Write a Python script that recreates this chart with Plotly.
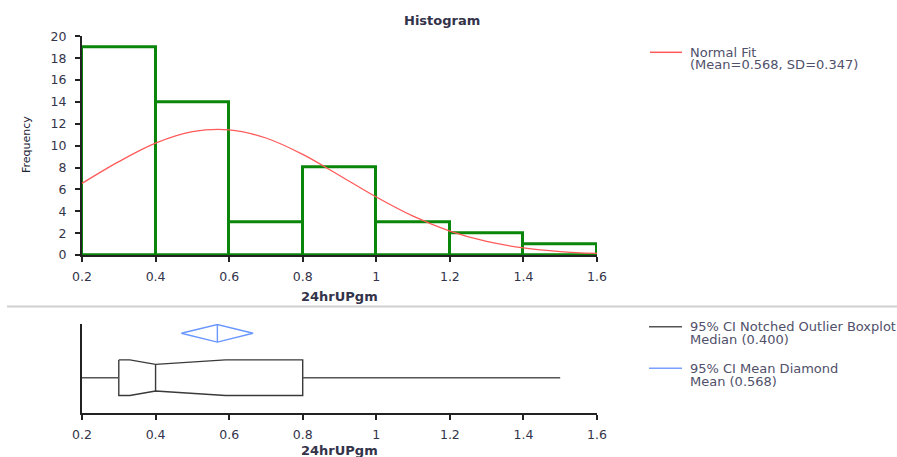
import plotly.graph_objects as go

# ---------------- data ----------------
bin_edges = [0.2, 0.4, 0.6, 0.8, 1.0, 1.2, 1.4, 1.6]
counts = [19, 14, 3, 8, 3, 2, 1]

fit_x = [0.2, 0.3, 0.4, 0.5, 0.6, 0.7, 0.8, 0.9, 1.0, 1.1, 1.2, 1.3, 1.4, 1.5, 1.6]
fit_y = [6.55, 8.54, 10.23, 11.28, 11.45, 10.70, 9.20, 7.27, 5.30, 3.55, 2.19, 1.24, 0.65, 0.31, 0.14]

x_ticks = [0.2, 0.4, 0.6, 0.8, 1.0, 1.2, 1.4, 1.6]
x_tick_labels = ["0.2", "0.4", "0.6", "0.8", "1", "1.2", "1.4", "1.6"]
y_ticks = [0, 2, 4, 6, 8, 10, 12, 14, 16, 18, 20]
y_tick_labels = ["0", "2", "4", "6", "8", "10", "12", "14", "16", "18", "20"]

q1, median, q3 = 0.3, 0.4, 0.8
whisker_lo, whisker_hi = 0.2, 1.5
notch_lo, notch_hi = 0.33, 0.59
mean_val = 0.568
mean_ci_lo, mean_ci_hi = 0.47, 0.665

# ---------------- layout helpers ----------------
W, H = 897, 457
def px(x):
    return x / W
def py(y):
    return 1 - y / H

FONT = "DejaVu Sans"
TXT = "#33334a"

# box panel vertical geometry (in pixel-like units above the axis)
BOX_C, BOX_H, NOTCH_H = 35.3, 17.8, 13.3
DIA_C, DIA_H = 79.7, 8.8

bin_centers = [(bin_edges[i] + bin_edges[i + 1]) / 2 for i in range(len(counts))]
bin_widths = [bin_edges[i + 1] - bin_edges[i] for i in range(len(counts))]

fig = go.Figure()

fig.add_trace(go.Bar(
    x=bin_centers, y=counts, width=bin_widths,
    marker=dict(color="rgba(0,0,0,0)", line=dict(color="#0a870a", width=3)),
    xaxis="x", yaxis="y", showlegend=False, hoverinfo="x+y"))

fig.add_trace(go.Scatter(
    x=fit_x, y=fit_y, mode="lines", line=dict(color="#ff5a5a", width=1.3, shape="spline"),
    xaxis="x", yaxis="y", showlegend=False))

# notched box
bx = [q1, notch_lo, median, notch_hi, q3, q3, notch_hi, median, notch_lo, q1, q1]
by = [BOX_C + BOX_H, BOX_C + BOX_H, BOX_C + NOTCH_H, BOX_C + BOX_H, BOX_C + BOX_H,
      BOX_C - BOX_H, BOX_C - BOX_H, BOX_C - NOTCH_H, BOX_C - BOX_H, BOX_C - BOX_H, BOX_C + BOX_H]
fig.add_trace(go.Scatter(x=bx, y=by, mode="lines", line=dict(color="#3a3a3a", width=1.4),
                         xaxis="x2", yaxis="y2", showlegend=False))
fig.add_trace(go.Scatter(x=[median, median], y=[BOX_C - NOTCH_H, BOX_C + NOTCH_H], mode="lines",
                         line=dict(color="#3a3a3a", width=1.4), xaxis="x2", yaxis="y2", showlegend=False))
fig.add_trace(go.Scatter(x=[whisker_lo, q1, None, q3, whisker_hi], y=[BOX_C, BOX_C, None, BOX_C, BOX_C],
                         mode="lines", line=dict(color="#555555", width=1.6),
                         xaxis="x2", yaxis="y2", showlegend=False))

# mean diamond
dx = [mean_ci_lo, mean_val, mean_ci_hi, mean_val, mean_ci_lo, None, mean_val, mean_val]
dy = [DIA_C, DIA_C + DIA_H, DIA_C, DIA_C - DIA_H, DIA_C, None, DIA_C - DIA_H, DIA_C + DIA_H]
fig.add_trace(go.Scatter(x=dx, y=dy, mode="lines", line=dict(color="#6a96ff", width=1.4),
                         xaxis="x2", yaxis="y2", showlegend=False))

axis_common = dict(
    showgrid=False, zeroline=False, showline=True, linecolor="#222222", linewidth=2,
    ticks="outside", ticklen=5, tickwidth=1.5, tickcolor="#222222", automargin=False,
    tickfont=dict(family=FONT, size=12.5, color=TXT), fixedrange=True,
)

fig.update_layout(
    width=W, height=H,
    margin=dict(l=0, r=0, t=0, b=0, pad=0, autoexpand=False),
    paper_bgcolor="white", plot_bgcolor="white",
    bargap=0,
    xaxis=dict(domain=[px(82), px(597)], range=[0.2, 1.6], anchor="y",
               tickvals=x_ticks, ticktext=x_tick_labels, ticklabelstandoff=4, **axis_common),
    yaxis=dict(domain=[py(255), py(36.3)], range=[0, 20], anchor="x",
               tickvals=y_ticks, ticktext=y_tick_labels, ticklabelstandoff=6, **axis_common),
    xaxis2=dict(domain=[px(82), px(597)], range=[0.2, 1.6], anchor="y2",
                tickvals=x_ticks, ticktext=x_tick_labels, ticklabelstandoff=4, **axis_common),
    yaxis2=dict(domain=[py(413), py(324)], range=[0, 89], anchor="x2", automargin=False,
                showgrid=False, zeroline=False, showline=True, linecolor="#222222", linewidth=2,
                ticks="", showticklabels=False, fixedrange=True),
)

annotations = [
    dict(text="<b>Histogram</b>", x=px(442), y=py(20), size=13),
    dict(text="<b>24hrUPgm</b>", x=px(339), y=py(296), size=13),
    dict(text="<b>24hrUPgm</b>", x=px(339), y=py(450), size=13),
]
anns = []
for a in annotations:
    anns.append(dict(text=a["text"], x=a["x"], y=a["y"], xref="paper", yref="paper",
                     xanchor="center", yanchor="middle", showarrow=False,
                     font=dict(family=FONT, size=a["size"], color=TXT)))
anns.append(dict(text="Frequency", x=px(26), y=py(145), xref="paper", yref="paper",
                 xanchor="center", yanchor="middle", showarrow=False, textangle=-90,
                 font=dict(family=FONT, size=11, color="#222233")))

legend_texts = [
    ("Normal Fit", 52.3),
    ("(Mean=0.568, SD=0.347)", 64.3),
    ("95% CI Notched Outlier Boxplot", 326.7),
    ("Median (0.400)", 339.3),
    ("95% CI Mean Diamond", 368.3),
    ("Mean (0.568)", 381),
]
for t, yy in legend_texts:
    anns.append(dict(text=t, x=px(688), y=py(yy), xref="paper", yref="paper",
                     xanchor="left", yanchor="middle", showarrow=False,
                     font=dict(family=FONT, size=13, color="#50506a")))
fig.update_layout(annotations=anns)

shapes = [
    dict(type="line", xref="paper", yref="paper", x0=px(650), x1=px(682), y0=py(52.3), y1=py(52.3),
         line=dict(color="#ff5a5a", width=1.5)),
    dict(type="line", xref="paper", yref="paper", x0=px(649), x1=px(682), y0=py(326.7), y1=py(326.7),
         line=dict(color="#555555", width=1.5)),
    dict(type="line", xref="paper", yref="paper", x0=px(649), x1=px(682), y0=py(368.3), y1=py(368.3),
         line=dict(color="#7aa0ff", width=1.5)),
    dict(type="line", xref="paper", yref="paper", x0=px(7), x1=px(897), y0=py(306.5), y1=py(306.5),
         line=dict(color="#d0d0d0", width=2)),
]
fig.update_layout(shapes=shapes)

fig.write_html(
    "out.html",
    config={"displayModeBar": False},
    post_script="document.body.style.margin='0';document.body.style.overflow='hidden';",
)
